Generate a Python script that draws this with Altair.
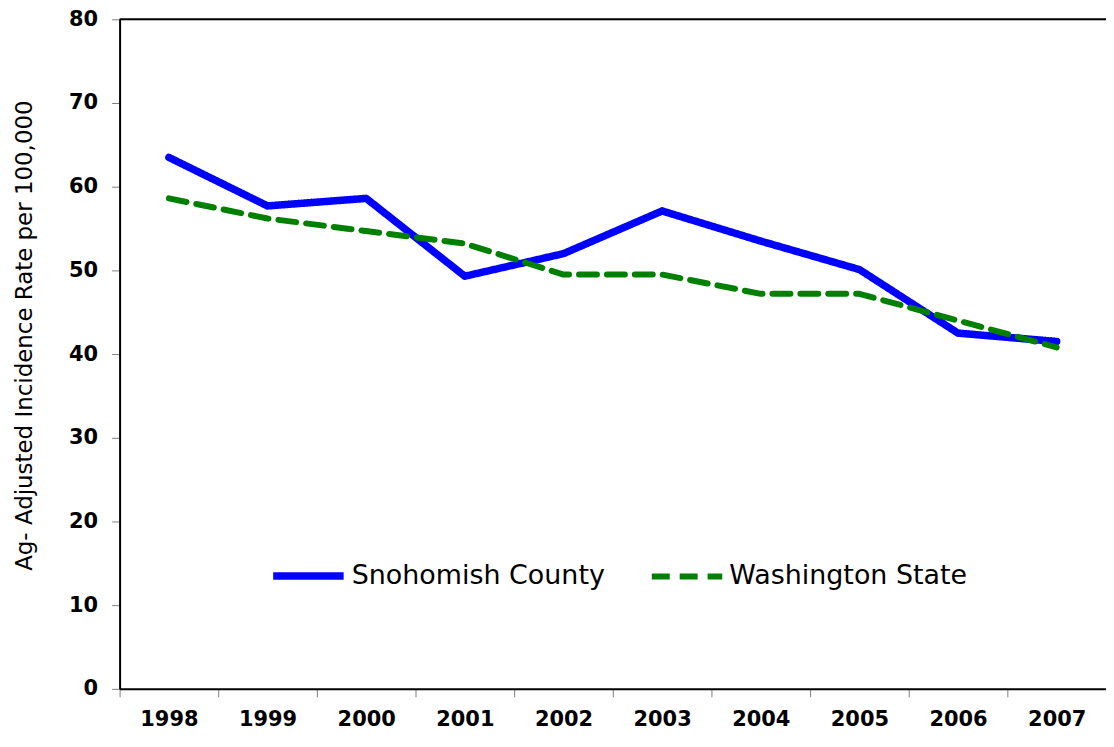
import altair as alt
import pandas as pd

years = ["1998", "1999", "2000", "2001", "2002", "2003", "2004", "2005", "2006", "2007"]
snohomish = [63.5, 57.7, 58.6, 49.3, 52.0, 57.1, 53.5, 50.1, 42.5, 41.5]
washington = [58.6, 56.2, 54.7, 53.2, 49.5, 49.5, 47.2, 47.2, 44.0, 40.8]
series_names = ["Snohomish County", "Washington State"]

rows = []
for i, y in enumerate(years):
    rows.append({"year": y, "series": series_names[0], "rate": snohomish[i]})
    rows.append({"year": y, "series": series_names[1], "rate": washington[i]})
df = pd.DataFrame(rows)

FONT = "DejaVu Sans"

x_enc = alt.X("year:N", sort=years, title=None,
              scale=alt.Scale(paddingInner=0, paddingOuter=0),
              axis=alt.Axis(labelAngle=0, labelFont=FONT, labelFontSize=21, labelFontWeight="bold",
                            labelColor="black", labelPadding=12, tickBand="extent",
                            tickSize=8, tickColor="#808080", tickWidth=1,
                            domainColor="black", domainWidth=2, grid=False))
y_enc = alt.Y("rate:Q", title="Ag- Adjusted Incidence Rate per 100,000",
              scale=alt.Scale(domain=[0, 80], nice=False),
              axis=alt.Axis(values=[0, 10, 20, 30, 40, 50, 60, 70, 80], labelFont=FONT, labelFontSize=21,
                            labelFontWeight="bold", labelColor="black", labelPadding=14,
                            tickSize=8, tickColor="#808080", tickWidth=1,
                            domainColor="black", domainWidth=2, grid=False,
                            titleFont=FONT, titleFontSize=23, titleFontWeight=500,
                            titleColor="black", titlePadding=32, titleY=317))

lines = alt.Chart(df).mark_line(strokeCap="round", strokeJoin="round").encode(
    x=x_enc,
    y=y_enc,
    color=alt.Color("series:N", sort=series_names,
                    scale=alt.Scale(domain=series_names, range=["#0000FF", "#008000"]),
                    legend=alt.Legend(title=None, orient="none", legendX=150, legendY=519,
                                      direction="horizontal", symbolType="stroke",
                                      symbolSize=5000, symbolStrokeWidth=7,
                                      labelFont=FONT, labelFontSize=27, labelColor="black",
                                      labelLimit=500, labelOffset=4, columnPadding=34)),
    strokeDash=alt.StrokeDash("series:N", sort=series_names,
                              scale=alt.Scale(domain=series_names, range=[[1, 0], [18, 10]]),
                              legend=None),
    strokeWidth=alt.StrokeWidth("series:N", scale=alt.Scale(domain=series_names, range=[7.5, 6]), legend=None),
)

top = alt.Chart(pd.DataFrame({"v": [80]})).mark_rule(color="black", strokeWidth=2).encode(
    y=alt.Y("v:Q", scale=alt.Scale(domain=[0, 80], nice=False))
)

chart = alt.layer(lines, top).properties(
    width=990, height=672,
    autosize=alt.AutoSizeParams(type="none"),
    padding={"left": 112, "top": 10, "right": 0, "bottom": 50},
).configure_view(stroke=None).configure(background="white")

chart.save("out.html", embed_options={"renderer": "svg", "actions": False})
